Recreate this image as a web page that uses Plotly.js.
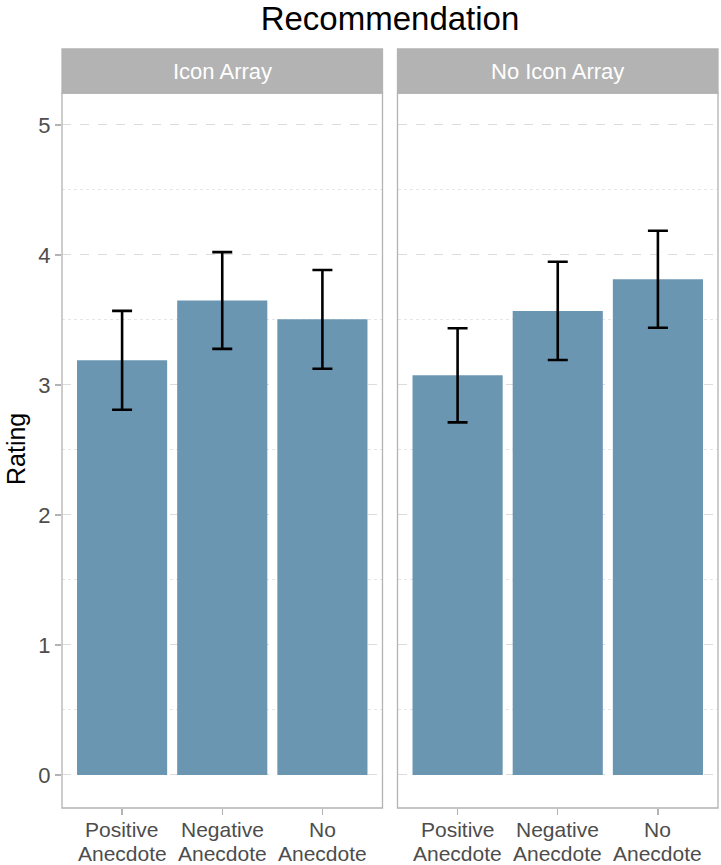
<!DOCTYPE html>
<html>
<head>
<meta charset="utf-8">
<script src="https://cdn.plot.ly/plotly-3.0.1.min.js"></script>
<style>html,body{margin:0;padding:0;background:#fff;}#chart{width:721px;height:865px;}</style>
</head>
<body>
<div id="chart"></div>
<script>
const chartTitle = 'Recommendation';
const panelNames = ['Icon Array', 'No Icon Array'];
const categories = ['Positive Anecdote', 'Negative Anecdote', 'No Anecdote'];
const tickLine1 = ['Positive', 'Negative', 'No'];
const tickLine2 = ['Anecdote', 'Anecdote', 'Anecdote'];
const iconMeans = [3.19, 3.65, 3.505];
const iconErr = [0.38, 0.372, 0.38];
const noIconMeans = [3.074, 3.57, 3.813];
const noIconErr = [0.362, 0.378, 0.373];
const yTicks = [0, 1, 2, 3, 4, 5];
const yTitle = 'Rating';

const W = 721, H = 865;
const px = v => v / W;
const py = v => 1 - v / H;
const barColor = '#6A96B2';
const grey70 = '#b3b3b3';
const fontFam = '"Liberation Sans", Arial, sans-serif';

function barTrace(means, err, xa, ya) {
  return {
    type: 'bar', x: categories, y: means, xaxis: xa, yaxis: ya,
    width: 0.9, marker: {color: barColor, line: {width: 0}},
    error_y: {type: 'data', array: err, visible: true, color: '#000', thickness: 2.6, width: 10},
    hoverinfo: 'skip', showlegend: false
  };
}

const data = [
  barTrace(iconMeans, iconErr, 'x', 'y'),
  barTrace(noIconMeans, noIconErr, 'x2', 'y2')
];

const xBase = {
  type: 'category', range: [-0.6, 2.6], tickmode: 'array', tickvals: categories,
  ticks: 'outside', ticklen: 6, tickwidth: 1.2, tickcolor: grey70, showticklabels: false,
  showgrid: false, showline: false, zeroline: false, fixedrange: true
};
const yBase = {
  range: [-0.254, 5.246], tickmode: 'array', tickvals: yTicks, ticktext: yTicks.map(String),
  showgrid: true, gridcolor: '#dcdcdc', griddash: 'dash', gridwidth: 1,
  minor: {tickmode: 'array', tickvals: [0.5, 1.5, 2.5, 3.5, 4.5], showgrid: true, gridcolor: '#e6e6e6', griddash: 'dot', gridwidth: 1, ticks: ''},
  zeroline: false, showline: false, fixedrange: true,
  domain: [py(808), py(93)]
};

const layout = {
  width: W, height: H,
  margin: {l: 0, r: 0, t: 0, b: 0},
  paper_bgcolor: '#fff', plot_bgcolor: '#fff',
  font: {family: fontFam},
  title: {text: chartTitle, font: {family: fontFam, size: 33, color: '#000'}, x: px(390), xanchor: 'center', xref: 'paper', y: py(18), yanchor: 'middle', yref: 'paper'},
  xaxis: Object.assign({}, xBase, {domain: [px(62), px(382.5)], anchor: 'y'}),
  xaxis2: Object.assign({}, xBase, {domain: [px(397.5), px(718)], anchor: 'y2'}),
  yaxis: Object.assign({}, yBase, {anchor: 'x', ticks: 'outside', ticklen: 6, tickwidth: 1.2, tickcolor: grey70,
    tickfont: {family: fontFam, size: 22, color: '#4d4d4d'}}),
  yaxis2: Object.assign({}, yBase, {anchor: 'x2', matches: 'y', showticklabels: false, ticks: ''}),
  shapes: [],
  annotations: [
    {text: yTitle, xref: 'paper', yref: 'paper', x: px(16), y: py(449), textangle: -90, showarrow: false,
     xanchor: 'center', yanchor: 'middle', font: {family: fontFam, size: 25, color: '#000'}}
  ]
};

['x', 'x2'].forEach((xa, i) => {
  const ya = i === 0 ? 'y' : 'y2';
  layout.shapes.push({type: 'rect', xref: xa + ' domain', yref: ya + ' domain', x0: 0, x1: 1, y0: 0, y1: 1,
    line: {color: grey70, width: 1.3}, fillcolor: 'rgba(0,0,0,0)', layer: 'above'});
  layout.shapes.push({type: 'rect', xref: xa + ' domain', yref: 'paper', x0: 0, x1: 1, y0: py(93), y1: py(49),
    line: {color: grey70, width: 1.3}, fillcolor: grey70, layer: 'above'});
  layout.annotations.push({text: panelNames[i], xref: xa + ' domain', yref: 'paper', x: 0.5, y: py(71),
    showarrow: false, xanchor: 'center', yanchor: 'middle', font: {family: fontFam, size: 22, color: '#fff'}});
  categories.forEach((c, k) => {
    layout.annotations.push({text: tickLine1[k], xref: xa, yref: 'paper', x: c, y: py(829), showarrow: false,
      borderpad: 0, xanchor: 'center', yanchor: 'middle', font: {family: fontFam, size: 21, color: '#4d4d4d'}});
    layout.annotations.push({text: tickLine2[k], xref: xa, yref: 'paper', x: c, y: py(853), showarrow: false,
      borderpad: 0, xanchor: 'center', yanchor: 'middle', font: {family: fontFam, size: 21, color: '#4d4d4d'}});
  });
});

Plotly.newPlot('chart', data, layout, {displayModeBar: false, staticPlot: true});
</script>
</body>
</html>
